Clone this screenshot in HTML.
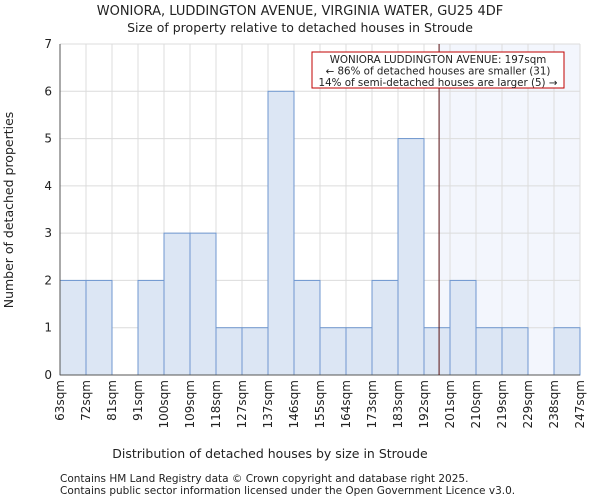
<!DOCTYPE html>
<html><head><meta charset="utf-8"><style>
body{margin:0;background:#fff;font-family:"DejaVu Sans","Liberation Sans",sans-serif;}
svg text{font-family:"DejaVu Sans","Liberation Sans",sans-serif;fill:#222;}
</style></head><body>
<svg id="c" width="600" height="500">
<text x="300" y="15" text-anchor="middle" font-size="13">WONIORA, LUDDINGTON AVENUE, VIRGINIA WATER, GU25 4DF</text>
<text x="300" y="32" text-anchor="middle" font-size="12.5">Size of property relative to detached houses in Stroude</text>
<g id="g"></g>
<text x="270" y="458" text-anchor="middle" font-size="12.5">Distribution of detached houses by size in Stroude</text>
<text transform="translate(13,210) rotate(-90)" text-anchor="middle" font-size="12.5">Number of detached properties</text>
<text x="60" y="482" font-size="10.5" fill="#444">Contains HM Land Registry data © Crown copyright and database right 2025.</text>
<text x="60" y="494" font-size="10.5" fill="#444">Contains public sector information licensed under the Open Government Licence v3.0.</text>
</svg>
<script>
const edges=["63sqm","72sqm","81sqm","91sqm","100sqm","109sqm","118sqm","127sqm","137sqm","146sqm","155sqm","164sqm","173sqm","183sqm","192sqm","201sqm","210sqm","219sqm","229sqm","238sqm","247sqm"];
const counts=[2,2,0,2,3,3,1,1,6,2,1,1,2,5,1,2,1,1,0,1];
const yTicks=[0,1,2,3,4,5,6,7];
const markerBin=14.58;
const NS="http://www.w3.org/2000/svg";
const g=document.getElementById('g');
const L=60,R=580,T=44,B=375,ymax=7;
const bw=(R-L)/counts.length;
const xs=i=>L+i*bw, ys=v=>B-(v/ymax)*(B-T);
function el(t,a,p){const e=document.createElementNS(NS,t);for(const k in a)e.setAttribute(k,a[k]);(p||g).appendChild(e);return e;}
const mx=xs(markerBin);
const sh=el('rect',{x:mx,y:T,width:R-mx,height:B-T,fill:'#f3f6fd'});


yTicks.forEach(v=>{
  const l=el('line',{x1:L,x2:R,y1:ys(v),y2:ys(v),stroke:'#dcdcdc'});
  
  
  const t=el('text',{x:L-8,y:ys(v)+4,'text-anchor':'end','font-size':12});
  t.textContent=v;
  
  
});
edges.forEach((s,i)=>{
  const l=el('line',{x1:xs(i),x2:xs(i),y1:T,y2:B,stroke:'#dcdcdc'});
  
  
  const t=el('text',{transform:`translate(${xs(i)+4},${B+5}) rotate(-90)`,'text-anchor':'end','font-size':12});
  t.textContent=s;
  
  
});
counts.forEach((v,i)=>{
  if(!v)return;
  const r=el('rect',{x:xs(i),y:ys(v),width:bw,height:B-ys(v),fill:'#dce6f4',stroke:'#6f97cf','stroke-width':1});
  
  
});
const ax=el('line',{x1:L,x2:L,y1:T,y2:B,stroke:'#555'});


const bx=el('line',{x1:L,x2:R,y1:B,y2:B,stroke:'#555'});


const ml=el('line',{x1:mx,x2:mx,y1:T,y2:B,stroke:'#5a1010','stroke-width':1});


const box=el('rect',{x:312,y:52,width:252,height:36,fill:'#fff',stroke:'#c00000','stroke-width':1});


["WONIORA LUDDINGTON AVENUE: 197sqm","← 86% of detached houses are smaller (31)","14% of semi-detached houses are larger (5) →"].forEach((s,i)=>{
  const t=el('text',{x:438,y:63+i*11.5,'text-anchor':'middle','font-size':10.3});
  t.textContent=s;
  
  
});
</script>
</body></html>
